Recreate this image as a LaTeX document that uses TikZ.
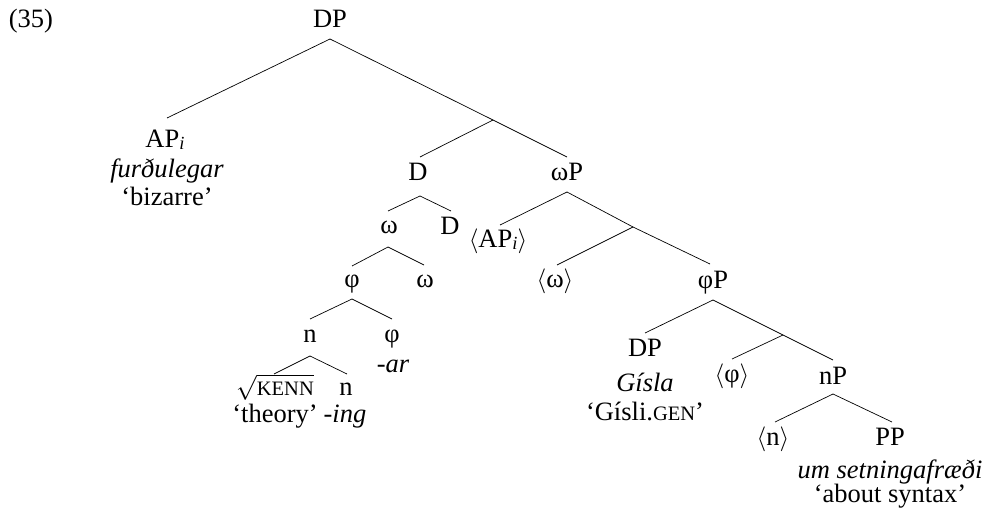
\documentclass[tikz,border=0pt]{standalone}
\usepackage{fontspec}
\setmainfont{Liberation Serif}
\newcommand{\smcap}[1]{{\fontsize{20.5}{21}\selectfont #1}}
\newcommand{\lang}{\(\langle\)}
\newcommand{\rang}{\(\rangle\)}
\newcommand{\subi}{\raisebox{-2.5pt}{\fontsize{18.5}{19}\selectfont\itshape i}}
\begin{document}
\begin{tikzpicture}[x=1pt,y=-1pt,
  lbl/.style={anchor=base,inner sep=0pt,font=\fontsize{26.5}{30}\selectfont},
  edge/.style={line width=0.7pt}]
\useasboundingbox (0,0) rectangle (990,516);
% labels
\node[lbl] (ex) at (31,28) {(35)};
\node[lbl] (dp) at (330,28) {DP};
\node[lbl] (api) at (165,147) {AP\subi};
\node[lbl] (api2) at (167,177) {\textit{furðulegar}};
\node[lbl] (api3) at (167,205) {‘bizarre’};
\node[lbl] (d1) at (418,180) {D};
\node[lbl] (wp) at (567,180) {ωP};
\node[lbl] (w1) at (389,233) {ω};
\node[lbl] (d2) at (450,234) {D};
\node[lbl] (apt) at (498,247) {\lang AP\subi\rang};
\node[lbl] (f1) at (352,287) {φ};
\node[lbl] (w2) at (425,287) {ω};
\node[lbl] (wt) at (555,287) {\lang ω\rang};
\node[lbl] (fp) at (713,288) {φP};
\node[lbl] (n1) at (310,342) {n};
\node[lbl] (f2) at (392,342) {φ};
\node[lbl] (ar) at (393,372) {\textit{-ar}};
\node[lbl] (kenn) at (275,395) {\(\sqrt{\mbox{\smcap{KENN}}}\)};
\node[lbl] (n2) at (346,395) {n};
\node[lbl] (theory) at (275,422) {‘theory’};
\node[lbl] (ing) at (345,422) {\textit{-ing}};
\node[lbl] (dp2) at (645,356) {DP};
\node[lbl] (gisla) at (645,391) {\textit{Gísla}};
\node[lbl] (gisli) at (645,420) {‘Gísli.\smcap{GEN}’};
\node[lbl] (ft) at (732,382) {\lang φ\rang};
\node[lbl] (np) at (833,384) {nP};
\node[lbl] (nt) at (773,445) {\lang n\rang};
\node[lbl] (pp) at (890,445) {PP};
\node[lbl] (um) at (890,478) {\textit{um setningafræði}};
\node[lbl] (about) at (890,502) {‘about syntax’};
% junctions
\coordinate (j1) at (493,120);
\coordinate (j2) at (633,227);
\coordinate (j3) at (783,335);
% edges
\draw[edge] ([xshift=2pt,yshift=29pt]api.base) -- ([yshift=-11pt]dp.base) -- (j1);
\draw[edge] ([xshift=2pt,yshift=23pt]d1.base) -- (j1) -- ([yshift=23pt]wp.base);
\draw[edge] ([xshift=-1pt,yshift=22pt]w1.base) -- ([xshift=2pt,yshift=-16pt]d1.base) -- ([xshift=1pt,yshift=23pt]d2.base);
\draw[edge] ([xshift=2pt,yshift=22pt]apt.base) -- ([yshift=-12pt]wp.base) -- (j2);
\draw[edge] ([xshift=2pt,yshift=22pt]wt.base) -- (j2) -- ([xshift=-3pt,yshift=24pt]fp.base);
\draw[edge] ([yshift=21pt]f1.base) -- ([xshift=-1pt,yshift=-14pt]w1.base) -- ([xshift=-1pt,yshift=22pt]w2.base);
\draw[edge] ([yshift=23pt]dp2.base) -- ([yshift=-12pt]fp.base) -- (j3);
\draw[edge] ([yshift=23pt]ft.base) -- (j3) -- ([yshift=24pt]np.base);
\draw[edge] ([yshift=23pt]n1.base) -- ([yshift=-12pt]f1.base) -- ([yshift=23pt]f2.base);
\draw[edge] ([xshift=-1pt,yshift=21pt]kenn.base) -- ([yshift=-14pt]n1.base) -- ([xshift=1pt,yshift=21pt]n2.base);
\draw[edge] ([xshift=2pt,yshift=23pt]nt.base) -- ([yshift=-10pt]np.base) -- ([xshift=2pt,yshift=23pt]pp.base);
\end{tikzpicture}
\end{document}
